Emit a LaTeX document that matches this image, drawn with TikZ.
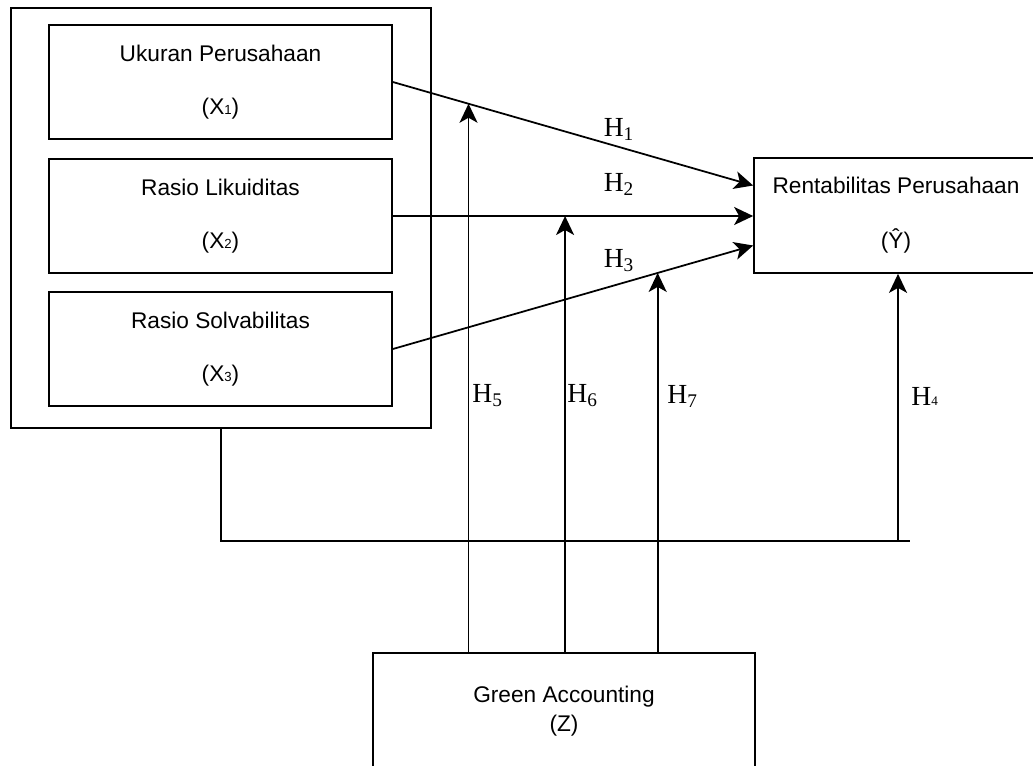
\documentclass[tikz,border=0pt]{standalone}
\usepackage{fontspec}
\setmainfont{Liberation Sans}
\newfontfamily\hfont{Liberation Serif}
\usetikzlibrary{arrows.meta}
\newcommand{\idx}[1]{{\fontsize{7.5}{7.5}\selectfont #1}}
\tikzset{
	box/.style={draw=black, line width=1pt, inner sep=0pt, align=center, font=\fontsize{12.9}{15.5}\selectfont},
	link/.style={line width=1pt},
	arr/.style={link, -{Stealth[length=0.38cm, width=0.36cm, inset=0.1cm]}},
	hyp/.style={font=\hfont\fontsize{15.7}{18}\selectfont, inner sep=0pt},
}
\begin{document}
\begin{tikzpicture}[x=0.02cm, y=-0.02cm]
	\clip (0,0) rectangle (1033,765);
	\node[box, minimum width=8.4cm, minimum height=8.4cm] (outer) at (221,218) {};
	\node[box, minimum width=6.86cm, minimum height=2.28cm] (x1) at (220.5,82) {Ukuran Perusahaan\\[14.5pt](X\idx{1})};
	\node[box, minimum width=6.86cm, minimum height=2.28cm] (x2) at (220.5,216) {Rasio Likuiditas\\[14.5pt](X\idx{2})};
	\node[box, minimum width=6.86cm, minimum height=2.28cm] (x3) at (220.5,349) {Rasio Solvabilitas\\[14.5pt](X\idx{3})};
	\node[box, minimum width=5.68cm, minimum height=2.3cm] (yy) at (896,215.5) {Rentabilitas Perusahaan\\[15.7pt](Ŷ)};
	\node[box, minimum width=7.64cm, minimum height=2.34cm] (z) at (564,711.5) {Green Accounting\\[1pt](Z)};
	\draw[arr] (x1.east) -- coordinate[pos=0.21] (m1) ([yshift=0.6cm]yy.west);
	\draw[arr] (x2.east) -- coordinate[pos=0.478] (m2) (x2.east -| yy.west);
	\draw[arr] (x3.east) -- coordinate[pos=0.735] (m3) ([yshift=-0.6cm]yy.west);
	\draw[arr] (z.north -| m1) -- (m1);
	\draw[arr] (z.north -| m2) -- (m2);
	\draw[arr] (z.north -| m3) -- (m3);
	\coordinate (h4) at (898,541);
	\coordinate (tail) at (910,541);
	\draw[link] (outer.south) |- (tail);
	\draw[arr] (h4) -- (h4 |- yy.south);
	\node[hyp] (h1) at (619,129) {H\textsubscript{1}};
	\node[hyp] (h2) at (619,184) {H\textsubscript{2}};
	\node[hyp] (h3) at (619,261) {H\textsubscript{3}};
	\node[hyp, anchor=west] (h5) at (472,396) {H\textsubscript{5}};
	\node[hyp, anchor=west] (h6) at (567,396) {H\textsubscript{6}};
	\node[hyp, anchor=west] (h7) at (667,396) {H\textsubscript{7}};
	\node[hyp, anchor=west] (h4l) at (911,396) {H\idx{4}};
\end{tikzpicture}
\end{document}
